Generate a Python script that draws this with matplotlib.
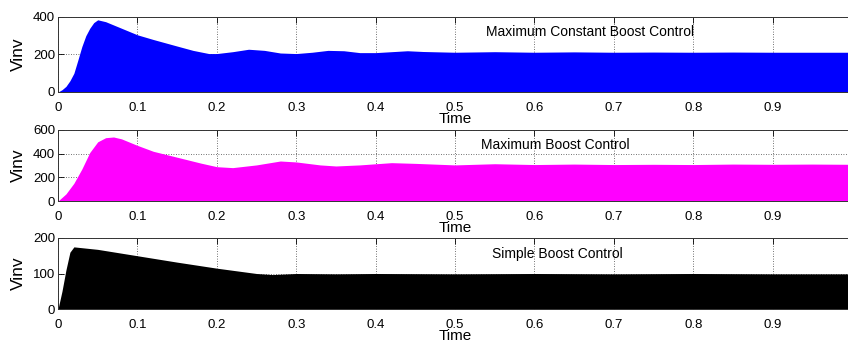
import matplotlib
matplotlib.use("Agg")
import matplotlib.pyplot as plt
import numpy as np

plt.rcParams['font.family'] = ['Liberation Sans', 'DejaVu Sans']

# Envelope of Vinv for each control method (time in s, voltage in V)
t_mcb = [0, 0.005, 0.01, 0.015, 0.02, 0.025, 0.03, 0.035, 0.04, 0.045, 0.05, 0.06, 0.08, 0.10,
         0.12, 0.15, 0.17, 0.19, 0.20, 0.22, 0.24, 0.26, 0.28, 0.30, 0.32, 0.34, 0.36, 0.38,
         0.40, 0.42, 0.44, 0.46, 0.50, 0.55, 0.60, 0.65, 0.70, 0.75, 0.80, 0.85, 0.90, 0.95, 1.00]
v_mcb = [0, 12, 30, 60, 100, 170, 242, 300, 340, 370, 385, 375, 340, 305,
         280, 245, 222, 205, 205, 215, 228, 222, 208, 205, 212, 222, 220, 210,
         210, 215, 220, 216, 212, 215, 212, 214, 212, 213, 212, 213, 212, 212, 212]

t_mb = [0, 0.01, 0.02, 0.03, 0.04, 0.05, 0.06, 0.07, 0.08, 0.10, 0.12, 0.15, 0.18, 0.20,
        0.22, 0.25, 0.28, 0.30, 0.33, 0.35, 0.38, 0.42, 0.45, 0.50, 0.55, 0.60, 0.65,
        0.70, 0.75, 0.80, 0.85, 0.90, 0.95, 1.00]
v_mb = [0, 60, 150, 270, 410, 500, 535, 541, 525, 470, 420, 370, 320, 290,
        282, 305, 338, 330, 305, 296, 305, 324, 318, 305, 315, 308, 312,
        308, 310, 308, 312, 310, 312, 310]

t_sb = [0, 0.005, 0.01, 0.015, 0.02, 0.05, 0.10, 0.15, 0.20, 0.25, 0.27, 0.30, 0.35, 0.40,
        0.50, 0.60, 0.70, 0.80, 0.90, 1.00]
v_sb = [0, 50, 110, 160, 175, 168, 150, 132, 115, 100, 97, 100, 99, 100,
        99, 100, 99, 100, 99, 99]

titles = ["Maximum Constant Boost Control", "Maximum Boost Control", "Simple Boost Control"]
colors = ["#0000ff", "#ff00ff", "#000000"]
ylims = [400, 600, 200]
yticks = [[0, 200, 400], [0, 200, 400, 600], [0, 100, 200]]
label_pos = [(0.539, 320), (0.533, 473), (0.547, 155)]
xticks = [0, 0.1, 0.2, 0.3, 0.4, 0.5, 0.6, 0.7, 0.8, 0.9]
xticklabels = ["0", "0.1", "0.2", "0.3", "0.4", "0.5", "0.6", "0.7", "0.8", "0.9"]

W, H = 848, 343
fig = plt.figure(figsize=(W / 100, H / 100), dpi=100)

# axes pixel bounds (left, top, right, bottom)
boxes = [(58, 17, 852, 92), (58, 130, 852, 201), (58, 238, 852, 309)]
data = [(t_mcb, v_mcb), (t_mb, v_mb), (t_sb, v_sb)]

for i, (l, tp, r, b) in enumerate(boxes):
    ax = fig.add_axes([l / W, 1 - b / H, (r - l) / W, (b - tp) / H])
    t, v = data[i]
    ax.fill_between(t, 0, v, color=colors[i], linewidth=0, zorder=2)
    ax.set_xlim(0, 1)
    ax.set_ylim(0, ylims[i])
    ax.set_xticks(xticks)
    ax.set_xticklabels(xticklabels, fontsize=9.5)
    ax.set_yticks(yticks[i])
    ax.set_yticklabels([str(y) for y in yticks[i]], fontsize=9.5)
    ax.tick_params(axis='x', direction='in', length=4, width=0.6, top=True, pad=7)
    ax.tick_params(axis='y', direction='in', length=4, width=0.6, right=False, pad=2)
    ax.grid(True, linestyle=(0, (1, 2)), color='#444444', linewidth=0.6, zorder=1)
    ax.set_axisbelow(True)
    for s in ['left', 'top', 'bottom']:
        ax.spines[s].set_linewidth(0.7)
        ax.spines[s].set_color('#333333')
    ax.spines['right'].set_visible(False)
    ax.set_xlabel("Time", fontsize=11, labelpad=-1)
    ax.set_ylabel("Vinv", fontsize=12.5, labelpad=5)
    ax.text(label_pos[i][0], label_pos[i][1], titles[i], fontsize=10, va='center', ha='left',
            color='black', zorder=3)

fig.savefig("out.png", dpi=100)
